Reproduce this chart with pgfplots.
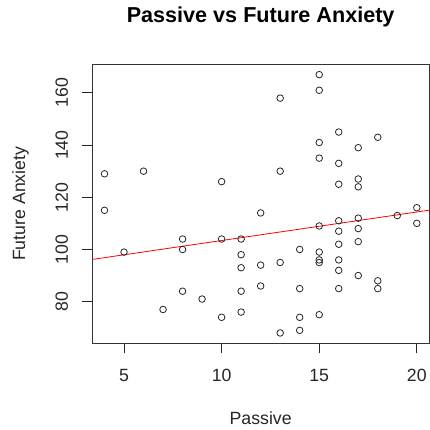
\documentclass[border=0pt]{standalone}
\usepackage{pgfplots}
\pgfplotsset{compat=1.18}
\usepackage{pgfplotstable}
\usepackage{fontspec}
\setmainfont{Liberation Sans}

% Passive score against Future Anxiety score
\pgfplotstableread{
x y
4 129
4 115
5 99
6 130
7 77
8 104
8 100
8 84
9 81
10 126
10 104
10 74
11 104
11 98
11 93
11 84
11 76
12 114
12 94
12 86
13 158
13 130
13 95
13 68
14 100
14 85
14 74
14 69
15 167
15 161
15 141
15 135
15 109
15 99
15 96
15 95
15 75
16 145
16 133
16 125
16 111
16 107
16 102
16 96
16 92
16 85
17 139
17 127
17 124
17 112
17 108
17 103
17 90
18 143
18 88
18 85
19 113
20 116
20 110
}\scores

% Least-squares line across the plotting range
\pgfplotstableread{
x y
3.36 96.16
20.64 115.06
}\fitline

\begin{document}
\begin{tikzpicture}
\begin{axis}[
  scale only axis,
  width=337.3pt, height=279pt,
  xmin=3.36, xmax=20.64,
  ymin=64.04, ymax=170.96,
  xtick={5,10,15,20},
  ytick={80,100,120,140,160},
  xtick pos=bottom, ytick pos=left,
  xtick align=outside, ytick align=outside,
  xtick style={black!85, line width=0.9pt},
  ytick style={black!85, line width=0.9pt},
  major tick length=10pt,
  axis line style={black!80, line width=0.8pt},
  /pgf/number format/assume math mode=true,
  tick label style={font=\fontsize{17.7pt}{21pt}\selectfont, text=black!85},
  xticklabel style={anchor=north, inner sep=0pt, yshift=-16pt},
  yticklabel style={rotate=90, anchor=south, inner sep=0pt, yshift=13.7pt},
  xlabel={Passive},
  ylabel={Future Anxiety},
  label style={font=\fontsize{17.7pt}{21pt}\selectfont, text=black!85},
  xlabel style={at={(axis description cs:0.5,-0.2928)}, anchor=base},
  ylabel style={at={(axis description cs:-0.1986,0.5)}, anchor=base},
  title={Passive vs Future Anxiety},
  title style={font=\bfseries\fontsize{21.6pt}{26pt}\selectfont,
    at={(axis description cs:0.5,1.128)}, anchor=base},
  clip=false,
]
\addplot[only marks, mark=o, mark size=3.3pt, black!85,
  mark options={line width=0.8pt}] table[x=x, y=y] {\scores};
\addplot[red, line width=0.8pt] table[x=x, y=y] {\fitline};
% outward tick strokes on the bottom and left sides
\pgfplotsinvokeforeach{5,10,15,20}{
  \draw[black!85, line width=0.9pt] (axis cs:#1,64.04) -- ++(0pt,-10pt);
}
\pgfplotsinvokeforeach{80,100,120,140,160}{
  \draw[black!85, line width=0.9pt] (axis cs:3.36,#1) -- ++(-10pt,0pt);
}
\end{axis}
\pgfresetboundingbox
\useasboundingbox (current axis.south west) ++(-92pt,-86.7pt) rectangle ++(430pt,430pt);
\end{tikzpicture}
\end{document}
